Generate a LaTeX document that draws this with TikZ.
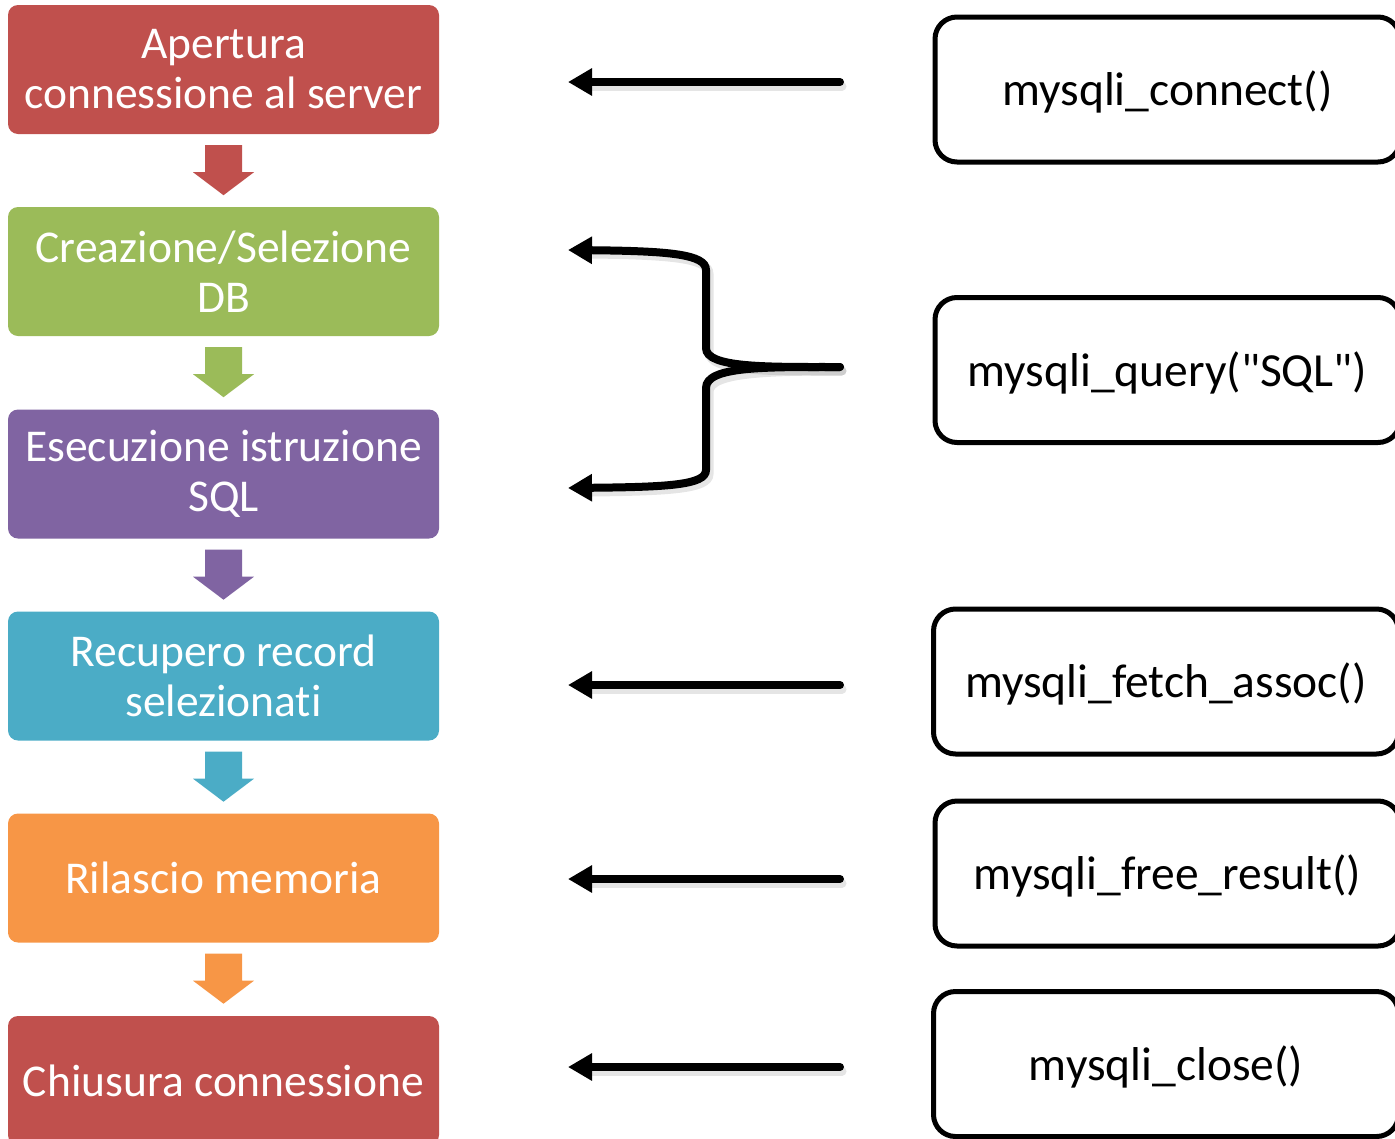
\documentclass[tikz,border=0pt]{standalone}
\usepackage{fontspec}
\setmainfont{Carlito}[Ligatures={NoCommon,TeXOff}]
\usetikzlibrary{arrows.meta,calc}
\definecolor{cred}{HTML}{C0504D}
\definecolor{cgreen}{HTML}{9BBB59}
\definecolor{cpurple}{HTML}{8064A2}
\definecolor{cteal}{HTML}{4BACC6}
\definecolor{corange}{HTML}{F79646}
\begin{document}
\begin{tikzpicture}[x=1pt,y=-1pt,
  lbox/.style={rounded corners=10pt, minimum width=431pt, minimum height=129pt,
    text=white, align=center, font=\fontsize{45.5}{50}\selectfont, inner sep=0pt},
  rbox/.style={draw=black, line width=5pt, rounded corners=22pt, minimum width=465pt,
    minimum height=145pt, font=\fontsize{47.5}{56}\selectfont, inner sep=0pt,
    text height=36pt, text depth=4pt},
  larrow/.style={line width=8pt, line cap=round, -{Triangle[length=24pt,width=26pt]}},
  shadowline/.style={line width=9pt, draw=black, opacity=0.10, line cap=round},
]
\useasboundingbox (0,0) rectangle (1395,1138);
\clip (0,0) rectangle (1395,1138);

% left boxes
\node[lbox, fill=cred]    (l1) at (223.5,69.5)  {Apertura\\connessione al server};
\node[lbox, fill=cgreen]  (l2) at (223.5,271.5) {Creazione/Selezione\\DB};
\node[lbox, fill=cpurple] (l3) at (223.5,474)   {Esecuzione istruzione\\SQL};
\node[lbox, fill=cteal]   (l4) at (223.5,676)   {Recupero record\\selezionati};
\node[lbox, fill=corange] (l5) at (223.5,878)   {Rilascio memoria};
\node[lbox, fill=cred]    (l6) at (223.5,1080.5){Chiusura connessione};

% block arrows between left boxes
\foreach \a/\c in {l1/cred, l2/cgreen, l3/cpurple, l4/cteal, l5/corange}{
  \fill[\c] ($(\a.south)+(-18.5,11)$) -- ++(37,0) -- ++(0,27) -- ++(12,0)
     -- ++(-30.5,23) -- ++(-30.5,-23) -- ++(12,0) -- cycle;
}

% right boxes
\node[rbox] (r1) at (1167.5,89.5) {mysqli\_connect()};
\node[rbox] (r2) at (1167.5,370)  {mysqli\_query("SQL")};
\node[rbox] (r3) at (1166,681.5)  {mysqli\_fetch\_assoc()};
\node[rbox] (r4) at (1167.5,873.5){mysqli\_free\_result()};
\node[rbox] (r5) at (1166,1064)   {mysqli\_close()};

% arrow end points
\coordinate (s1) at (840,82);   \coordinate (t1) at (568,82);
\coordinate (s3) at (840,685);  \coordinate (t3) at (568,685);
\coordinate (s4) at (840,879);  \coordinate (t4) at (568,879);
\coordinate (s5) at (840,1067); \coordinate (t5) at (568,1067);
\coordinate (bt) at (840,367);
\coordinate (ta) at (568,250);
\coordinate (tb) at (568,488);

% shadows
\foreach \s/\t in {s1/t1, s3/t3, s4/t4, s5/t5}{
  \draw[shadowline] ($(\s)+(2,4)$) -- ($(\t)+(24,4)$);
}
\draw[shadowline] ($(bt)+(2,4)$) .. controls (770,371) and (709,372) .. (709,352)
   -- (709,274) .. controls (709,258) and (670,255) .. (592,254);
\draw[shadowline] ($(bt)+(2,4)$) .. controls (770,371) and (709,372) .. (709,392)
   -- (709,474) .. controls (709,489) and (670,491) .. (592,492);

% straight arrows
\foreach \s/\t in {s1/t1, s3/t3, s4/t4, s5/t5}{
  \draw[larrow] (\s) -- (\t);
}
% brace arrows
\draw[larrow] (bt) .. controls (766,367) and (706,368) .. (706,348)
   -- (706,270) .. controls (706,254) and (668,251) .. (ta);
\draw[larrow] (bt) .. controls (766,367) and (706,366) .. (706,388)
   -- (706,470) .. controls (706,485) and (668,487) .. (tb);
\end{tikzpicture}
\end{document}
